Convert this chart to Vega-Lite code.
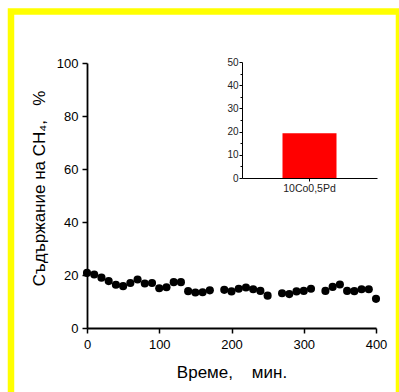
{
  "$schema": "https://vega.github.io/schema/vega-lite/v6.json",
  "padding": {"left": 7, "top": 8, "right": 0, "bottom": 0},
  "background": "white",
  "width": 289,
  "height": 265,
  "config": {
    "view": {"stroke": null},
    "font": "Liberation Sans",
    "axis": {
      "grid": false,
      "domainColor": "black",
      "tickColor": "black",
      "labelColor": "black",
      "titleColor": "black",
      "labelFont": "Liberation Sans",
      "titleFont": "Liberation Sans",
      "titleFontWeight": "normal"
    }
  },
  "resolve": {
    "scale": {"x": "independent", "y": "independent"},
    "axis": {"x": "independent", "y": "independent"}
  },
  "layer": [
    {
      "data": {
        "values": [
          {"time": 0, "ch4": 20.8}, {"time": 10, "ch4": 20.2}, {"time": 20, "ch4": 19.0},
          {"time": 30, "ch4": 17.7}, {"time": 40, "ch4": 16.3}, {"time": 50, "ch4": 15.8},
          {"time": 60, "ch4": 17.0}, {"time": 70, "ch4": 18.3}, {"time": 80, "ch4": 16.8},
          {"time": 90, "ch4": 17.0}, {"time": 100, "ch4": 15.0}, {"time": 110, "ch4": 15.4},
          {"time": 120, "ch4": 17.3}, {"time": 130, "ch4": 17.3}, {"time": 140, "ch4": 13.9},
          {"time": 150, "ch4": 13.4}, {"time": 160, "ch4": 13.5}, {"time": 170, "ch4": 14.2},
          {"time": 190, "ch4": 14.4}, {"time": 200, "ch4": 13.8}, {"time": 210, "ch4": 14.8},
          {"time": 220, "ch4": 15.3}, {"time": 230, "ch4": 14.6}, {"time": 240, "ch4": 14.0},
          {"time": 250, "ch4": 12.2}, {"time": 270, "ch4": 13.1}, {"time": 280, "ch4": 12.8},
          {"time": 290, "ch4": 13.8}, {"time": 300, "ch4": 14.0}, {"time": 310, "ch4": 14.8},
          {"time": 330, "ch4": 14.0}, {"time": 340, "ch4": 15.5}, {"time": 350, "ch4": 16.4},
          {"time": 360, "ch4": 14.0}, {"time": 370, "ch4": 13.9}, {"time": 380, "ch4": 14.6},
          {"time": 390, "ch4": 14.6}, {"time": 400, "ch4": 11.0}
        ]
      },
      "layer": [
        {
          "data": {"values": [{}]},
          "mark": {"type": "rect", "filled": false, "stroke": "#FFFF00", "strokeWidth": 6.5},
          "encoding": {
            "x": {"datum": -105.2, "type": "quantitative", "scale": {"domain": [0, 400], "nice": false}},
            "x2": {"datum": 431.8},
            "y": {"datum": 119.4, "type": "quantitative", "scale": {"domain": [0, 100], "nice": false}},
            "y2": {"datum": -27.2}
          }
        },
        {
          "mark": {"type": "circle", "size": 66, "color": "black", "opacity": 1},
          "encoding": {
            "x": {
              "field": "time",
              "type": "quantitative",
              "scale": {"domain": [0, 400], "nice": false},
              "axis": {
                "orient": "bottom",
                "title": "Време,\u00a0\u00a0\u00a0\u00a0мин.",
                "titleFontSize": 17,
                "titlePadding": 13,
                "values": [0, 25, 50, 75, 100, 125, 150, 175, 200, 225, 250, 275, 300, 325, 350, 375, 400],
                "labelExpr": "datum.value % 50 === 0 ? datum.label : ''",
                "labelFontSize": 13,
                "labelFlush": false,
                "labelOverlap": false,
                "labelPadding": 5,
                "tickSize": {"condition": {"test": "datum.value % 50 === 0", "value": 5}, "value": 3},
                "tickWidth": 1.5,
                "domainWidth": 1.8
              }
            },
            "y": {
              "field": "ch4",
              "type": "quantitative",
              "scale": {"domain": [0, 100], "nice": false},
              "axis": {
                "orient": "left",
                "title": "Съдържание на CH₄,\u00a0\u00a0\u00a0%",
                "titleFontSize": 17,
                "titlePadding": 8,
                "titleY": 125,
                "values": [0, 10, 20, 30, 40, 50, 60, 70, 80, 90, 100],
                "labelExpr": "datum.value % 20 === 0 ? datum.label : ''",
                "labelFontSize": 13,
                "labelOverlap": false,
                "labelPadding": 4,
                "tickSize": {"condition": {"test": "datum.value % 20 === 0", "value": 5}, "value": 3},
                "tickWidth": 1.5,
                "domainWidth": 1.8
              }
            }
          }
        }
      ]
    },
    {
      "data": {"values": [{"catalyst": "10Co0,5Pd", "value": 19.3}]},
      "mark": {"type": "bar", "color": "#FF0000"},
      "encoding": {
        "x": {
          "field": "catalyst",
          "type": "nominal",
          "scale": {"range": [155, 290], "paddingInner": 0, "paddingOuter": 0.75},
          "axis": {
            "orient": "bottom",
            "offset": -150,
            "title": null,
            "labelAngle": 0,
            "labelFontSize": 10.5,
            "labelColor": "#222222",
            "tickSize": 3,
            "labelPadding": 2,
            "domainWidth": 1,
            "tickWidth": 1
          }
        },
        "y": {
          "field": "value",
          "type": "quantitative",
          "scale": {"domain": [0, 50], "nice": false, "range": [115, -1]},
          "axis": {
            "orient": "left",
            "offset": -155,
            "title": null,
            "values": [0, 5, 10, 15, 20, 25, 30, 35, 40, 45, 50],
            "labelExpr": "datum.value % 10 === 0 ? datum.label : ''",
            "labelOverlap": false,
            "labelFontSize": 10,
            "labelColor": "#222222",
            "labelPadding": 1,
            "tickSize": {"condition": {"test": "datum.value % 10 === 0", "value": 3}, "value": 2},
            "tickWidth": 1,
            "domainWidth": 1
          }
        }
      }
    }
  ]
}
